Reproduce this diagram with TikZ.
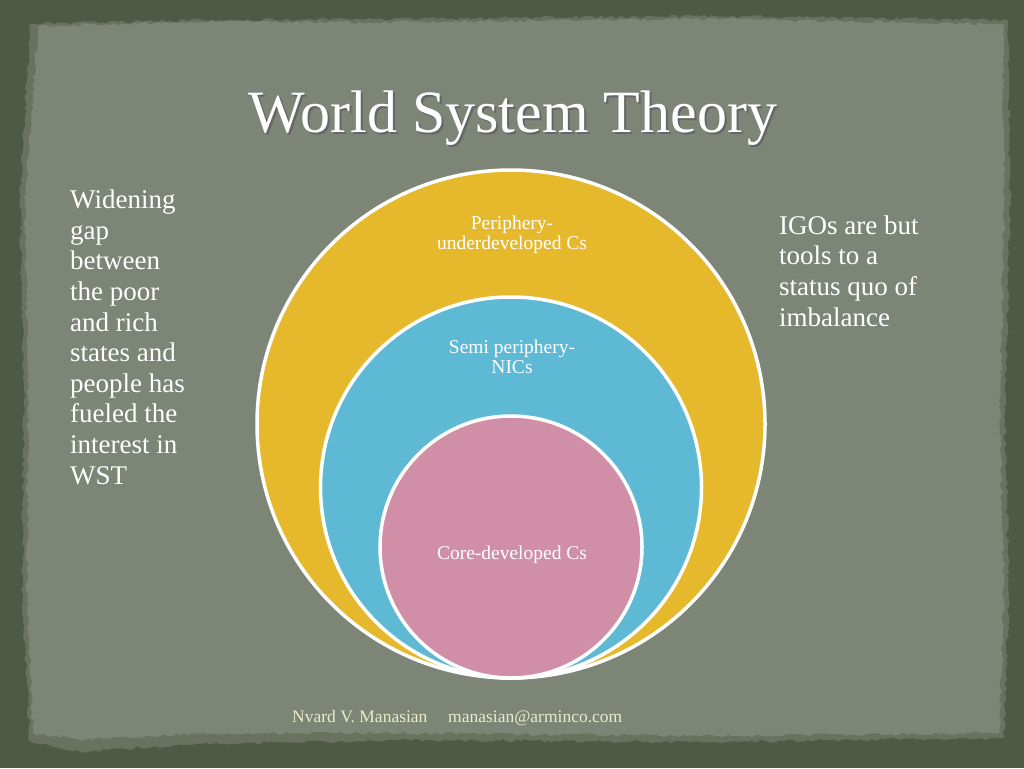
\documentclass[tikz,border=0pt]{standalone}
\usepackage{fontspec}
\setmainfont{Liberation Serif}
\usetikzlibrary{decorations.pathmorphing}
\definecolor{bgdark}{HTML}{4E5A44}
\definecolor{edgemid}{HTML}{68725E}
\definecolor{panel}{HTML}{7D8577}
\definecolor{ring1}{HTML}{E6B92C}
\definecolor{ring2}{HTML}{5EB9D5}
\definecolor{ring3}{HTML}{D08FA7}
\definecolor{foot}{HTML}{ECEBC8}
\tikzset{
  ring/.style={draw=white, line width=3.5pt},
  ringlabel/.style={text=white, align=center, font=\fontsize{19.5}{20}\selectfont, inner sep=0pt, anchor=base},
  sidetext/.style={text=white, align=left, font=\fontsize{27}{30.6}\selectfont, inner sep=0pt, anchor=base west},
  torn/.style={decorate, decoration={random steps, segment length=4pt, amplitude=1.6pt}}
}
\pgfmathsetseed{7}
\begin{document}
\begin{tikzpicture}[x=1pt,y=-1pt]
\useasboundingbox (0,0) rectangle (1024,768);
\fill[bgdark] (0,0) rectangle (1024,768);
% torn paper edge band
\fill[edgemid, torn] (30,24) -- (200,20) -- (420,19) -- (700,16) -- (1008,20)
  -- (1010,200) -- (1005,420) -- (1009,600) -- (1004,738)
  -- (700,742) -- (400,740) -- (200,744) -- (80,752) -- (30,742)
  -- (22,600) -- (24,400) -- (20,200) -- cycle;
% paper panel
\fill[panel, torn] (38,26) -- (200,22) -- (420,22) -- (700,19) -- (1003,24)
  -- (1004,200) -- (1000,420) -- (1004,600) -- (999,733)
  -- (700,736) -- (400,733) -- (200,734) -- (80,740) -- (33,733)
  -- (27,600) -- (28,400) -- (25,200) -- cycle;
% title
\node[text=black!60, inner sep=0pt, anchor=base, font=\fontsize{60}{61}\selectfont] (titleshadow) at (515,134) {World System Theory};
\node[text=white, inner sep=0pt, anchor=base, font=\fontsize{60}{61}\selectfont] (title) at (513,132) {World System Theory};
% circles
\node[ring, fill=ring1, circle, minimum size=508pt, inner sep=0pt] (outer) at (511,424) {};
\node[ring, fill=ring2, circle, minimum size=381pt, inner sep=0pt] (middle) at (511,487.5) {};
\node[ring, fill=ring3, circle, minimum size=262pt, inner sep=0pt] (inner) at (511,547) {};
% circle labels (anchor = baseline of the last line)
\node[ringlabel] (lblouter) at (512,249) {Periphery-\\underdeveloped Cs};
\node[ringlabel] (lblmiddle) at (512,373) {Semi periphery-\\NICs};
\node[ringlabel] (lblinner) at (512,559) {Core-developed Cs};
% side texts (anchor = baseline of the last line)
\node[sidetext] (lefttext) at (70,484) {Widening\\gap\\between\\the poor\\and rich\\states and\\people has\\fueled the\\interest in\\WST};
\node[sidetext] (righttext) at (779,326) {IGOs are but\\tools to a\\status quo of\\imbalance};
% footer
\node[text=foot, inner sep=0pt, anchor=base west, font=\fontsize{17.5}{18}\selectfont] (author) at (292,722) {Nvard V. Manasian};
\node[text=foot, inner sep=0pt, anchor=base west, font=\fontsize{17.5}{18}\selectfont] (email) at (448,722) {manasian@arminco.com};
\end{tikzpicture}
\end{document}
